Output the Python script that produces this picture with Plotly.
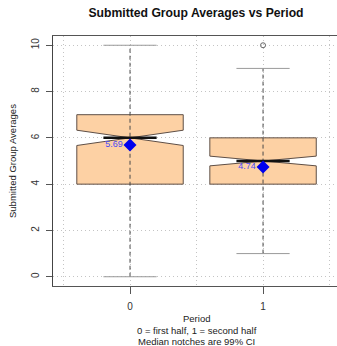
import plotly.graph_objects as go

# ---- data ----
periods = [0, 1]
period_labels = ["0", "1"]
q1 = [4, 4]
medians = [6, 5]
q3 = [7, 6]
whisker_lo = [0, 1]
whisker_hi = [10, 9]
notch_half = [0.33, 0.21]
means = [5.69, 4.74]
outlier_x = [1]
outlier_y = [10]
y_ticks = [0, 2, 4, 6, 8, 10]

FONT = "Liberation Sans, Arial, Helvetica, sans-serif"
BOX_HALF = 0.4
CAP_HALF = 0.2
MED_HALF = 0.2

fig = go.Figure()

# box bodies (whiskers drawn separately)
fig.add_trace(go.Box(
    x=periods, q1=q1, median=medians, q3=q3,
    lowerfence=q1, upperfence=q3,
    notched=True, notchspan=notch_half, notchwidth=0.5,
    width=2 * BOX_HALF, whiskerwidth=0,
    fillcolor="#FDD1A4", line=dict(color="#5e4f47", width=1),
    boxpoints=False, hoverinfo="skip", showlegend=False,
))

# whisker stems (dashed)
wx, wy = [], []
for p, lo, hi in zip(periods, whisker_lo, whisker_hi):
    wx += [p, p, None]
    wy += [lo, hi, None]
fig.add_trace(go.Scatter(x=wx, y=wy, mode="lines",
                         line=dict(color="#4a4a4a", width=1, dash="4px,3px"),
                         hoverinfo="skip", showlegend=False))

# whisker caps
cx, cy = [], []
for p, lo, hi in zip(periods, whisker_lo, whisker_hi):
    cx += [p - CAP_HALF, p + CAP_HALF, None, p - CAP_HALF, p + CAP_HALF, None]
    cy += [lo, lo, None, hi, hi, None]
fig.add_trace(go.Scatter(x=cx, y=cy, mode="lines",
                         line=dict(color="#9a9a9a", width=1),
                         hoverinfo="skip", showlegend=False))

# median lines
mx, my = [], []
for p, m in zip(periods, medians):
    mx += [p - MED_HALF, p + MED_HALF, None]
    my += [m, m, None]
fig.add_trace(go.Scatter(x=mx, y=my, mode="lines",
                         line=dict(color="#111111", width=2.5),
                         hoverinfo="skip", showlegend=False))

# outliers
fig.add_trace(go.Scatter(x=outlier_x, y=outlier_y, mode="markers",
                         marker=dict(symbol="circle-open", size=5, color="#666666", line=dict(width=1)),
                         hoverinfo="skip", showlegend=False))

# means
fig.add_trace(go.Scatter(x=periods, y=means, mode="markers+text",
                         text=[f"{m:.2f}" for m in means], textposition="middle left",
                         textfont=dict(family=FONT, size=9, color="#4a4af5"),
                         marker=dict(symbol="diamond", size=10, color="#0000ee"),
                         hoverinfo="skip", showlegend=False))

annotations = [
    dict(text="Period", x=196.5, y=346 - 318),
    dict(text="0 = first half, 1 = second half", x=196.5, y=346 - 330),
    dict(text="Median notches are 99% CI", x=196.5, y=346 - 341),
]
ann = []
for a in annotations:
    ann.append(dict(text=a["text"], xref="paper", yref="paper",
                    x=(a["x"] - 53) / 284, y=(a["y"] - 60) / 250,
                    xanchor="center", yanchor="middle", showarrow=False,
                    font=dict(family=FONT, size=9.5, color="#222222")))
ann.append(dict(text="Submitted Group Averages", xref="paper", yref="paper",
                x=(12 - 53) / 284, y=(346 - 161 - 60) / 250, textangle=-90,
                xanchor="center", yanchor="middle", showarrow=False,
                font=dict(family=FONT, size=9.5, color="#222222")))

fig.update_layout(
    width=337, height=346,
    margin=dict(l=53, r=0, t=36, b=60, autoexpand=False),
    plot_bgcolor="white", paper_bgcolor="white",
    font=dict(family=FONT, size=10, color="#333333"),
    title=dict(text="<b>Submitted Group Averages vs Period</b>",
               font=dict(family=FONT, size=12.2, color="#111111"),
               x=196 / 337, xanchor="center", xref="container",
               y=1 - 13 / 346, yanchor="middle", yref="container"),
    showlegend=False,
    annotations=ann,
)

fig.update_xaxes(
    range=[-0.579, 1.556], automargin=False,
    tickvals=periods, ticktext=period_labels,
    ticks="outside", ticklen=7, tickcolor="#555555", ticklabelstandoff=4,
    showline=True, linecolor="#555555", linewidth=1, mirror=True,
    showgrid=True, gridcolor="#c4c4c4", griddash="1px,3px", gridwidth=1,
    minor=dict(tickvals=[-0.5, 0.5, 1.5], showgrid=True, gridcolor="#c4c4c4",
               griddash="1px,3px", ticklen=0),
    zeroline=False,
    tickfont=dict(size=10, color="#333333"),
)
fig.update_yaxes(
    range=[-0.4, 10.4], automargin=False,
    tickvals=y_ticks, ticktext=[str(v) for v in y_ticks], tickangle=-90,
    ticks="outside", ticklen=6, tickcolor="#555555", ticklabelstandoff=3,
    showline=True, linecolor="#444444", linewidth=1, mirror=False,
    showgrid=True, gridcolor="#c4c4c4", griddash="1px,3px", gridwidth=1,
    zeroline=False,
    tickfont=dict(size=10, color="#333333"),
)

fig.write_html("out.html",
               config={"displayModeBar": False, "staticPlot": True},
               post_script="document.body.style.margin='0';document.body.style.overflow='hidden';")
